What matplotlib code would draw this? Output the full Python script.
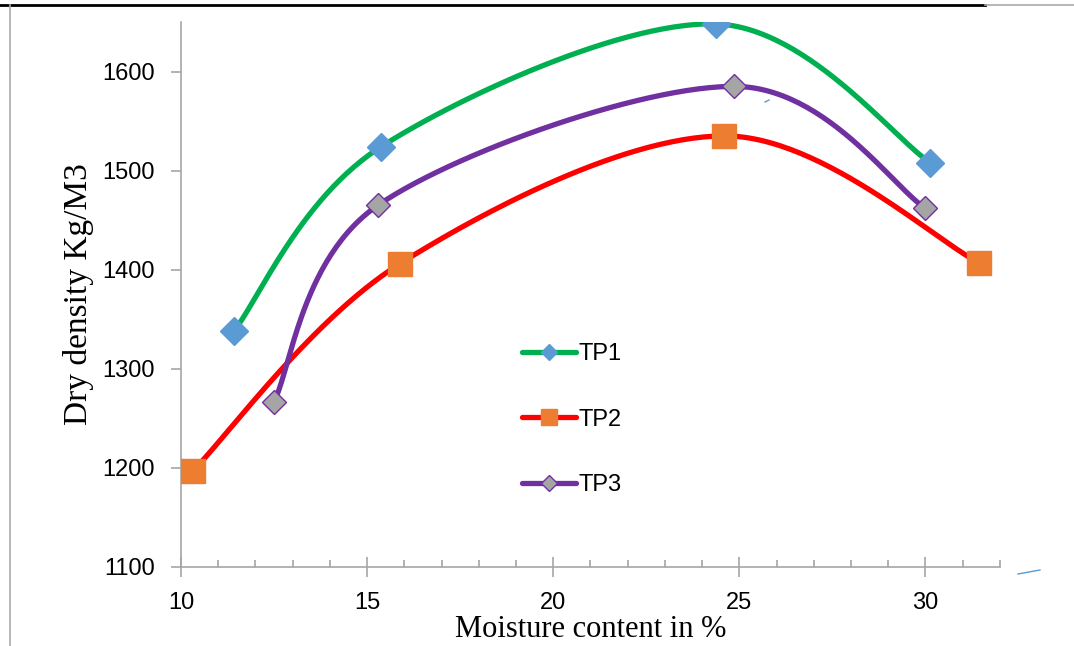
import numpy as np
import matplotlib.pyplot as plt
from matplotlib.lines import Line2D

# Moisture content (%) and dry density (kg/m3)
tp1_x = [11.42, 15.37, 24.36, 30.13]
tp1_y = [1338, 1524, 1648, 1508]
tp2_x = [10.32, 15.88, 24.60, 31.44]
tp2_y = [1197, 1406, 1535, 1407]
tp3_x = [12.49, 15.29, 24.87, 30.00]
tp3_y = [1266, 1465, 1585, 1462]


def smooth(xs, ys, n=60):
    # Excel-style smoothed line: cubic Bezier with Catmull-Rom control points
    p = np.column_stack([xs, ys]).astype(float)
    p = np.vstack([p[0], p, p[-1]])
    out = []
    t = np.linspace(0, 1, n)[:, None]
    for i in range(1, len(p) - 2):
        p0, p1, p2, p3 = p[i - 1], p[i], p[i + 1], p[i + 2]
        c1 = p1 + (p2 - p0) / 6
        c2 = p2 - (p3 - p1) / 6
        seg = ((1 - t) ** 3) * p1 + 3 * ((1 - t) ** 2) * t * c1 + 3 * (1 - t) * t ** 2 * c2 + t ** 3 * p2
        out.append(seg)
    out = np.vstack(out)
    return out[:, 0], out[:, 1]


fig = plt.figure(figsize=(10.74, 6.46), dpi=100)
ax = fig.add_axes([0.1685, 0.1223, 0.7625, 0.8437])

# (x, y, label, line colour, marker, face, edge, marker size, legend marker size)
series = [
    (tp1_x, tp1_y, 'TP1', '#00B050', 'D', '#5B9BD5', '#5B9BD5', 14, 8.5),
    (tp2_x, tp2_y, 'TP2', '#FF0000', 's', '#ED7D31', '#ED7D31', 17, 12),
    (tp3_x, tp3_y, 'TP3', '#7030A0', 'D', '#A5A5A5', '#7030A0', 12.5, 8.5),
]
for xs, ys, name, lc, mk, mfc, mec, ms, lms in series:
    sx, sy = smooth(xs, ys)
    ax.plot(sx, sy, color=lc, lw=3.8, solid_capstyle='round', zorder=2)
    ax.plot(xs, ys, linestyle='none', marker=mk, markersize=ms,
            markerfacecolor=mfc, markeredgecolor=mec, markeredgewidth=1, zorder=3)

handles = [Line2D([], [], color=lc, lw=3.8, solid_capstyle='round', marker=mk,
                  markersize=lms, markerfacecolor=mfc, markeredgecolor=mec)
           for _, _, _, lc, mk, mfc, mec, ms, lms in series]
labels = [s[2] for s in series]
ax.legend(handles, labels, loc='upper left', bbox_to_anchor=(0.39, 0.45),
          frameon=False, prop={'family': 'Liberation Sans', 'size': 17},
          handlelength=2.3, handletextpad=0.1, labelspacing=1.85)

ax.set_xlim(10, 32)
ax.set_ylim(1100, 1650)
ax.set_xticks([10, 15, 20, 25, 30])
ax.set_xticks(np.arange(10, 33, 1), minor=True)
ax.set_yticks(np.arange(1100, 1601, 100))

for side in ['top', 'right']:
    ax.spines[side].set_visible(False)
for side in ['left', 'bottom']:
    ax.spines[side].set_color('#A6A6A6')
    ax.spines[side].set_linewidth(1.2)

ax.tick_params(axis='x', which='major', direction='inout', length=14, width=1.2,
               color='#A6A6A6', pad=11)
ax.tick_params(axis='x', which='minor', direction='in', length=5, width=1.2,
               color='#A6A6A6')
ax.tick_params(axis='y', which='major', direction='out', length=7, width=1.2,
               color='#A6A6A6', pad=12)
ax.tick_params(labelsize=17, labelfontfamily='Liberation Sans')

ax.set_xlabel('Moisture content in %', family='Liberation Serif', fontsize=22)
ax.xaxis.set_label_coords(0.5, -0.088)
ax.set_ylabel('Dry density Kg/M3', family='Liberation Serif', fontsize=24, labelpad=6)

# page border lines and stray marks around the chart
W, H = 1074, 646
fig.add_artist(Line2D([0, 985 / W], [1 - 5 / H, 1 - 5 / H], color='black', lw=2))
fig.add_artist(Line2D([985 / W, 1], [1 - 5 / H, 1 - 5 / H], color='#AAAAAA', lw=1.2))
fig.add_artist(Line2D([10 / W, 10 / W], [0, 1 - 5 / H], color='#AAAAAA', lw=1.2))
fig.add_artist(Line2D([765 / W, 769 / W], [1 - 102 / H, 1 - 100 / H], color='#5B9BD5', lw=1))
fig.add_artist(Line2D([1018 / W, 1040 / W], [1 - 574 / H, 1 - 570 / H], color='#5B9BD5', lw=1))

fig.savefig('out.png', dpi=100)
